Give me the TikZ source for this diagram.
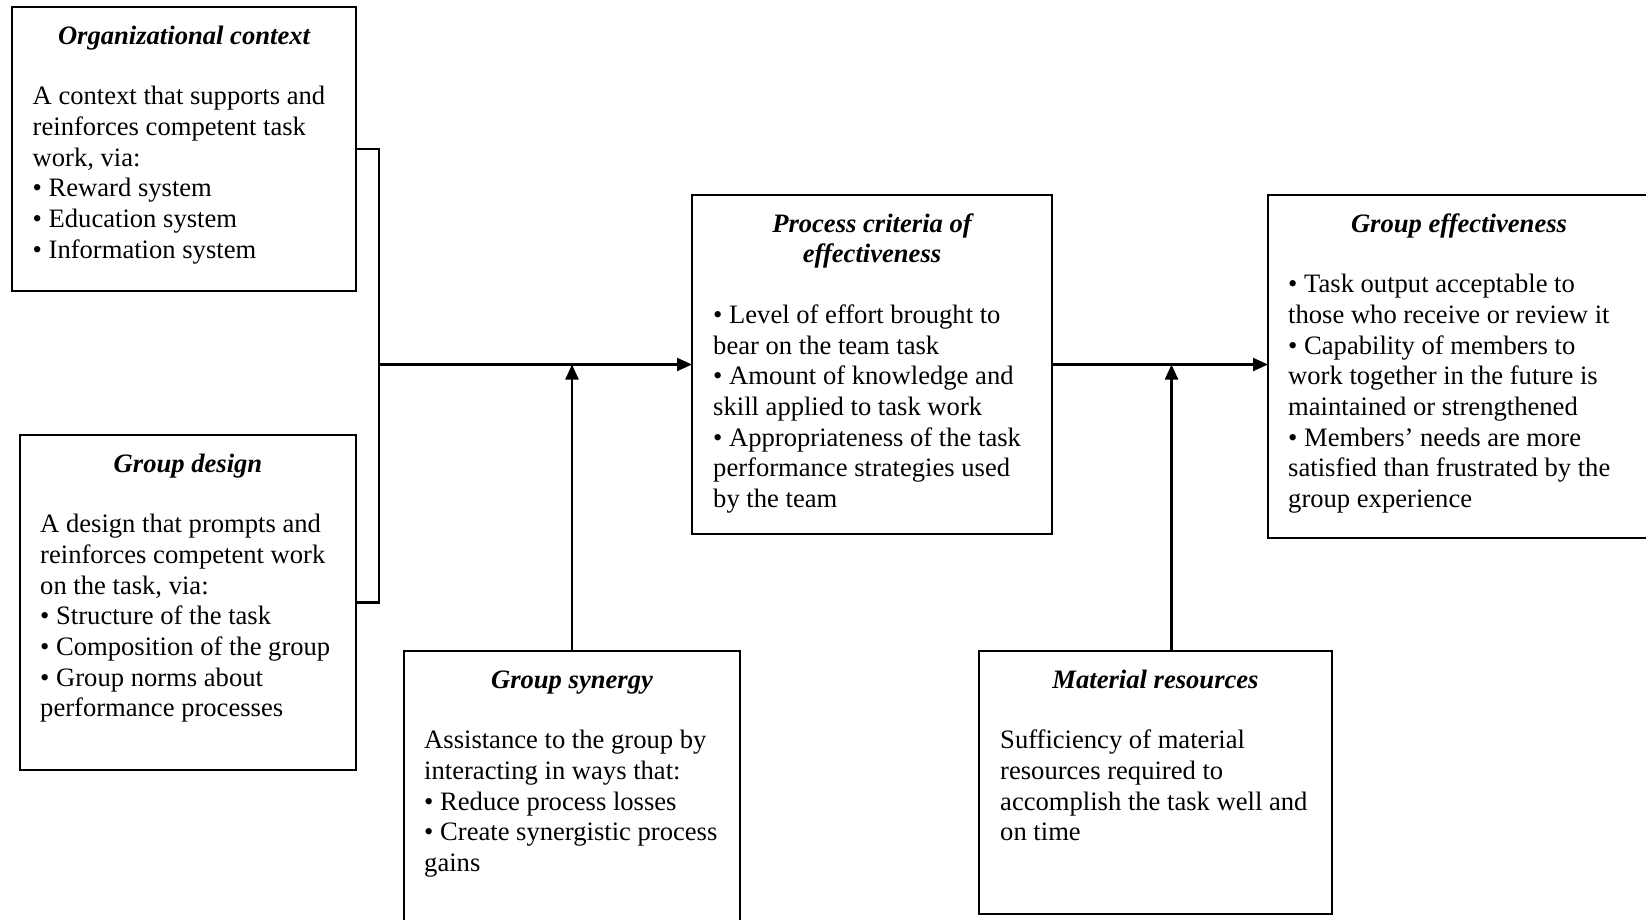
\documentclass[tikz,border=0pt]{standalone}
\usepackage{fontspec}
\setmainfont{Liberation Serif}
\usetikzlibrary{arrows.meta,calc}

\begin{document}
\begin{tikzpicture}[x=1pt,y=-1pt,
  box/.style={draw,line width=2.2pt,inner sep=0pt,outer sep=0pt,anchor=north west},
  ttl/.style={anchor=north,inner sep=0pt,align=center,
    font=\fontsize{26.6}{30.7}\selectfont\bfseries\itshape},
  body/.style={anchor=north west,inner sep=0pt,align=left,
    font=\fontsize{26.6}{30.7}\selectfont},
  link/.style={line width=2.2pt},
  arr/.style={link,-{Triangle[length=15pt,width=13pt]}}
]
\useasboundingbox (0,0) rectangle (1646,920);

% ---- boxes ----
\node[box,minimum width=344pt,minimum height=284pt] (org)  at (12,7)    {};
\node[box,minimum width=336pt,minimum height=335pt] (des)  at (20,435)  {};
\node[box,minimum width=336pt,minimum height=300pt] (syn)  at (404,651) {};
\node[box,minimum width=360pt,minimum height=339pt] (proc) at (692,195) {};
\node[box,minimum width=382pt,minimum height=343pt] (eff)  at (1268,195) {};
\node[box,minimum width=353pt,minimum height=263pt] (mat)  at (979,651) {};

% ---- titles ----
\node[ttl] (orgT)  at ($(org.north)+(0,15.5)$)  {\strut Organizational context};
\node[ttl] (desT)  at ($(des.north)+(0,15.5)$)  {\strut Group design};
\node[ttl] (synT)  at ($(syn.north)+(0,15.5)$)  {\strut Group synergy};
\node[ttl] (procT) at ($(proc.north)+(0,15.5)$) {\strut Process criteria of\\ effectiveness};
\node[ttl] (effT)  at ($(eff.north)+(0,15.5)$)  {\strut Group effectiveness};
\node[ttl] (matT)  at ($(mat.north)+(0,15.5)$)  {\strut Material resources};

% ---- bodies ----
\node[body] (orgB) at ($(org.north west)+(20.5,76)$) {\strut A context that supports and\\
reinforces competent task\\
work, via:\\
• Reward system\\
• Education system\\
• Information system};

\node[body] (desB) at ($(des.north west)+(20,76)$) {\strut A design that prompts and\\
reinforces competent work\\
on the task, via:\\
• Structure of the task\\
• Composition of the group\\
• Group norms about\\
performance processes};

\node[body] (synB) at ($(syn.north west)+(20,76)$) {\strut Assistance to the group by\\
interacting in ways that:\\
• Reduce process losses\\
• Create synergistic process\\
gains};

\node[body] (procB) at ($(proc.north west)+(21,106.7)$) {\strut • Level of effort brought to\\
bear on the team task\\
• Amount of knowledge and\\
skill applied to task work\\
• Appropriateness of the task\\
performance strategies used\\
by the team};

\node[body] (effB) at ($(eff.north west)+(20,76)$) {\strut • Task output acceptable to\\
those who receive or review it\\
• Capability of members to\\
work together in the future is\\
maintained or strengthened\\
• Members’ needs are more\\
satisfied than frustrated by the\\
group experience};

\node[body] (matB) at ($(mat.north west)+(21,76)$) {\strut Sufficiency of material\\
resources required to\\
accomplish the task well and\\
on time};

% ---- connectors ----
\coordinate (jn) at (379,0);
\draw[link] (org.east) -| (jn |- des.east) -- (des.east);
\draw[arr] (jn |- proc.west) -- (proc.west);
\draw[arr] (syn.north) -- (syn.north |- proc.west);
\draw[arr] (proc.east) -- (proc.east -| eff.west);
\coordinate (matIn) at ($(mat.north)+(16,0)$);
\draw[arr] (matIn) -- (matIn |- proc.east);
\end{tikzpicture}
\end{document}
